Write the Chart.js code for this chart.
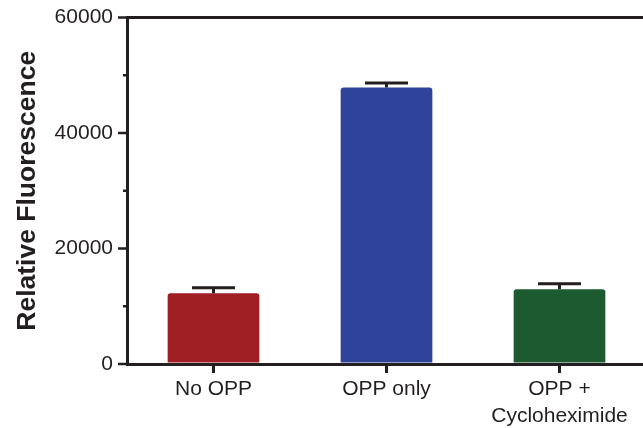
<!DOCTYPE html>
<html>
<head>
<meta charset="utf-8">
<script src="https://cdn.jsdelivr.net/npm/chart.js@4/dist/chart.umd.min.js"></script>
<style>
  html, body { margin: 0; padding: 0; background: #fff; overflow: hidden; }
</style>
</head>
<body>
<canvas id="chart" width="646" height="428"></canvas>
<script>
// data
const categories = ['No OPP', 'OPP only', ['OPP +', 'Cycloheximide']];
const fluorescence = [12250, 47900, 12950];
const errorUp = [960, 750, 960];
const barColors = ['#9e1e23', '#2e4399', '#1d5a30'];
const yTicks = [0, 20000, 40000, 60000];

const ink = '#231f20';
const font = "'Liberation Sans', Arial, sans-serif";

// error bars (upper half only) and y tick marks, drawn from the scales
const extras = {
    id: 'extras',
    afterDatasetsDraw(chart) {
        const ctx = chart.ctx;
        const y = chart.scales.y;
        const meta = chart.getDatasetMeta(0);
        ctx.save();
        ctx.strokeStyle = ink;
        ctx.lineWidth = 3;
        meta.data.forEach((bar, i) => {
            const top = y.getPixelForValue(fluorescence[i] + errorUp[i]);
            ctx.beginPath();
            ctx.moveTo(bar.x, bar.y);
            ctx.lineTo(bar.x, top);
            ctx.moveTo(bar.x - 21.5, top);
            ctx.lineTo(bar.x + 21.5, top);
            ctx.stroke();
        });
        // major / minor ticks on the y axis
        ctx.lineWidth = 2.5;
        y.ticks.forEach(t => {
            const py = y.getPixelForValue(t.value);
            const len = yTicks.includes(t.value) ? 9 : 4;
            ctx.beginPath();
            ctx.moveTo(y.right - len, py);
            ctx.lineTo(y.right, py);
            ctx.stroke();
        });
        ctx.restore();
    }
};

new Chart(document.getElementById('chart'), {
    type: 'bar',
    data: {
        labels: categories,
        datasets: [{
            data: fluorescence,
            backgroundColor: barColors,
            borderRadius: { topLeft: 3, topRight: 3 },
            borderSkipped: 'bottom',
            barPercentage: 0.53,
            categoryPercentage: 1
        }]
    },
    options: {
        responsive: false,
        animation: false,
        layout: { padding: { top: 17.5, right: 0, bottom: 0, left: 0 } },
        plugins: { legend: { display: false }, tooltip: { enabled: false } },
        scales: {
            x: {
                afterFit: s => { s.height = 64; },
                border: { color: ink, width: 3 },
                grid: {
                    offset: false,
                    drawOnChartArea: false,
                    drawTicks: true,
                    tickLength: 9,
                    tickColor: ink,
                    lineWidth: 3
                },
                ticks: {
                    color: ink,
                    padding: 3,
                    maxRotation: 0,
                    font: { family: font, size: 21, lineHeight: 1.27 }
                }
            },
            y: {
                min: 0,
                max: 60000,
                afterFit: s => {
                    s.width = 127;
                    s.paddingTop = 0;
                    s.paddingBottom = 0;
                },
                border: { color: ink, width: 3 },
                grid: {
                    drawTicks: false,
                    color: c => (c.tick && c.tick.value === 60000 ? ink : 'rgba(0,0,0,0)'),
                    lineWidth: 3
                },
                ticks: {
                    stepSize: 10000,
                    color: ink,
                    padding: 14,
                    font: { family: font, size: 21 },
                    callback: v => (yTicks.includes(v) ? String(v) : '')
                },
                title: {
                    display: true,
                    text: 'Relative Fluorescence',
                    color: ink,
                    padding: { top: 12, bottom: 0 },
                    font: { family: font, size: 26.5, weight: 'bold' }
                }
            }
        }
    },
    plugins: [extras]
});
</script>
</body>
</html>
